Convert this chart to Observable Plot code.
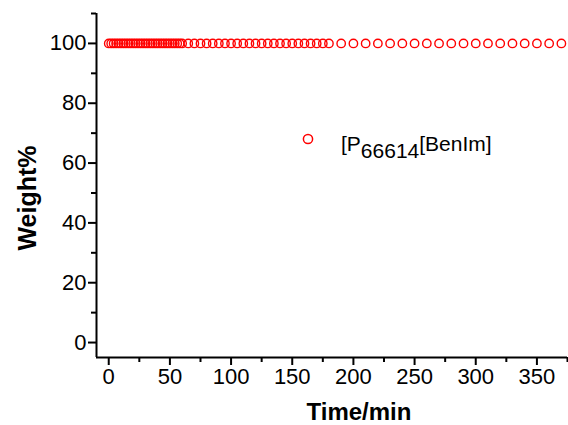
<!DOCTYPE html>
<html>
<head>
<meta charset="utf-8">
<script src="https://cdn.jsdelivr.net/npm/d3@7"></script>
<script src="https://cdn.jsdelivr.net/npm/@observablehq/plot@0.6"></script>
<style>
  html, body { margin: 0; padding: 0; background: #fff; }
  #chart { width: 568px; height: 425px; }
</style>
</head>
<body>
<div id="chart"></div>
<script>
// Time (min) of each measurement
const time = [
  0, 2, 4, 6, 8, 10, 12, 14, 16, 18, 20, 22, 24, 26, 28, 30, 32, 34, 36, 38,
  40, 42, 44, 46, 48, 50, 52, 54, 56, 58,
  60, 65, 70, 75, 80, 85, 90, 95, 100, 105, 110, 115, 120, 125, 130, 135, 140,
  145, 150, 155, 160, 165, 170, 175, 180,
  190, 200, 210, 220, 230, 240, 250, 260, 270, 280, 290, 300, 310, 320, 330,
  340, 350, 360, 370
];
// Weight% of [P66614][BenIm]
const weight = [
  100, 100, 100, 100, 100, 100, 100, 100, 100, 100, 100, 100, 100, 100, 100, 100, 100, 100, 100, 100,
  100, 100, 100, 100, 100, 100, 100, 100, 100, 100,
  100, 100, 100, 100, 100, 100, 100, 100, 100, 100, 100, 100, 100, 100, 100, 100, 100,
  100, 100, 100, 100, 100, 100, 100, 100,
  100, 100, 100, 100, 100, 100, 100, 100, 100, 100, 100, 100, 100, 100, 100,
  100, 100, 100, 100
];
const xDomain = [-10, 375];
const yDomain = [-5, 110];
const xTicks = [0, 50, 100, 150, 200, 250, 300, 350];
const xMinorTicks = [25, 75, 125, 175, 225, 275, 325, 375];
const yTicks = [0, 20, 40, 60, 80, 100];
const yMinorTicks = [10, 30, 50, 70, 90, 110];
const xTitle = "Time/min";
const yTitle = "Weight%";
const seriesName = { main: "[P", sub: "66614", rest: "[BenIm]" };

const data = time.map((t, i) => ({ t, w: weight[i] }));

const font = "'Liberation Sans', Arial, sans-serif";

const plot = Plot.plot({
  width: 568,
  height: 425,
  marginLeft: 96,
  marginRight: 1,
  marginTop: 13,
  marginBottom: 68,
  x: { domain: xDomain },
  y: { domain: yDomain },
  style: { fontFamily: font, fontSize: "22px", color: "black", background: "white" },
  marks: [
    Plot.axisX({ ticks: xTicks, tickSize: 8, tickPadding: 3, strokeWidth: 2, label: null, fontSize: 22 }),
    Plot.axisX({ ticks: xMinorTicks, tickSize: 5, strokeWidth: 2, label: null, tickFormat: () => "" }),
    Plot.axisY({ ticks: yTicks, tickSize: 8, tickPadding: 2, strokeWidth: 2, label: null, fontSize: 22 }),
    Plot.axisY({ ticks: yMinorTicks, tickSize: 5, strokeWidth: 2, label: null, tickFormat: () => "" }),
    Plot.ruleY([yDomain[0]], { stroke: "black", strokeWidth: 2 }),
    Plot.ruleX([xDomain[0]], { stroke: "black", strokeWidth: 2 }),
    Plot.dot(data, { x: "t", y: "w", r: 4.2, stroke: "#ff0000", strokeWidth: 1.4, fill: "none" })
  ]
});

document.getElementById("chart").appendChild(plot);

const svg = d3.select(plot);

// Axis titles
svg.append("text")
  .attr("x", 359).attr("y", 420)
  .attr("text-anchor", "middle")
  .attr("font-family", font).attr("font-weight", "bold").attr("font-size", 24)
  .attr("fill", "black")
  .text(xTitle);

svg.append("text")
  .attr("transform", "translate(36,198) rotate(-90)")
  .attr("text-anchor", "middle")
  .attr("font-family", font).attr("font-weight", "bold").attr("font-size", 25)
  .attr("fill", "black")
  .text(yTitle);

// Legend
const lg = svg.append("g");
lg.append("circle")
  .attr("cx", 308).attr("cy", 139).attr("r", 4.6)
  .attr("fill", "none").attr("stroke", "#ff0000").attr("stroke-width", 1.5);
const lt = lg.append("text")
  .attr("x", 341).attr("y", 151)
  .attr("text-anchor", "start")
  .attr("font-family", font).attr("font-size", 21)
  .attr("fill", "black");
lt.append("tspan").text(seriesName.main);
lt.append("tspan").attr("dy", 7).attr("font-size", 21).text(seriesName.sub);
lt.append("tspan").attr("dy", -7).attr("font-size", 21).text(seriesName.rest);
</script>
</body>
</html>
